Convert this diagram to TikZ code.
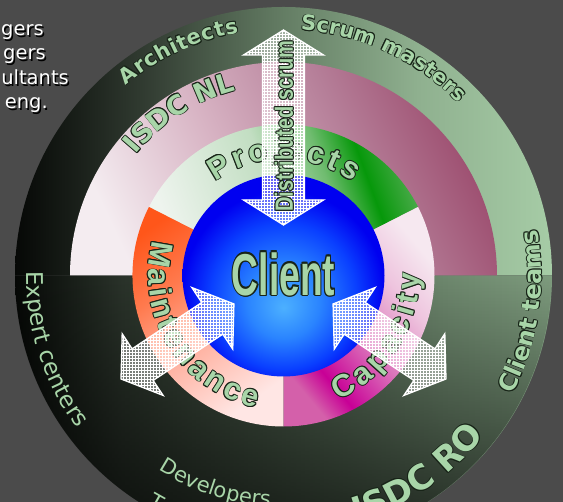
\documentclass[tikz,border=0pt]{standalone}
\usepackage{fontspec}
\usepackage{graphicx}
\usetikzlibrary{calc,patterns,fadings}
\newfontfamily\dvs{DejaVu Sans}
\newfontfamily\lib{Liberation Sans}

\definecolor{bg}{HTML}{4B4B4B}
\definecolor{txtg}{HTML}{A8D5A8}
\definecolor{oldark}{HTML}{182418}
% outer upper
\definecolor{oUa}{HTML}{060806}\definecolor{oUb}{HTML}{1A201A}\definecolor{oUc}{HTML}{354035}
\definecolor{oUd}{HTML}{647D64}\definecolor{oUe}{HTML}{8FB08F}\definecolor{oUf}{HTML}{A6CCA6}
% outer lower
\definecolor{oLa}{HTML}{060806}\definecolor{oLb}{HTML}{2A332A}\definecolor{oLc}{HTML}{4C5E4C}
\definecolor{oLd}{HTML}{6E886E}\definecolor{oLe}{HTML}{7E9C7E}
% pink
\definecolor{pka}{HTML}{F4ECF0}\definecolor{pkb}{HTML}{D8B4C4}\definecolor{pkc}{HTML}{B57E98}\definecolor{pkd}{HTML}{9C4C6E}
% projects
\definecolor{pra}{HTML}{EEF4EE}\definecolor{prb}{HTML}{C2DEC2}\definecolor{prc}{HTML}{70BC70}\definecolor{prd}{HTML}{06980A}\definecolor{pre}{HTML}{48AA48}
% maintenance
\definecolor{mta}{HTML}{FF561A}\definecolor{mtb}{HTML}{FF7A4E}\definecolor{mtc}{HTML}{FFAE9C}\definecolor{mtd}{HTML}{FFE6E4}
% capacity
\definecolor{cpa}{HTML}{D460AA}\definecolor{cpb}{HTML}{C80096}\definecolor{cpc}{HTML}{DC78BC}\definecolor{cpd}{HTML}{EEC4DE}\definecolor{cpe}{HTML}{F6E8F0}
% client
\definecolor{cla}{HTML}{4CB0FF}\definecolor{clb}{HTML}{2A84FF}\definecolor{clc}{HTML}{0A40FF}\definecolor{cld}{HTML}{0000F0}

\pgfdeclarehorizontalshading{outerU}{100bp}{color(0bp)=(oUa); color(25bp)=(oUa); color(31bp)=(oUb); color(38bp)=(oUc); color(50bp)=(oUd); color(62.5bp)=(oUe); color(75bp)=(oUf); color(100bp)=(oUf)}
\pgfdeclarehorizontalshading{outerL}{100bp}{color(0bp)=(oLa); color(25bp)=(oLa); color(35bp)=(oLb); color(50bp)=(oLc); color(65bp)=(oLd); color(75bp)=(oLe); color(100bp)=(oLe)}
\pgfdeclarehorizontalshading{pinkS}{100bp}{color(0bp)=(pka); color(25bp)=(pka); color(42.5bp)=(pkb); color(60bp)=(pkc); color(75bp)=(pkd); color(100bp)=(pkd)}
\pgfdeclarehorizontalshading{projS}{100bp}{color(0bp)=(pra); color(25bp)=(pra); color(47.5bp)=(prb); color(59bp)=(prc); color(67bp)=(prd); color(75bp)=(pre); color(100bp)=(pre)}
\pgfdeclarehorizontalshading{maintS}{100bp}{color(0bp)=(mta); color(25bp)=(mta); color(40bp)=(mtb); color(55bp)=(mtc); color(75bp)=(mtd); color(100bp)=(mtd)}
\pgfdeclarehorizontalshading{capS}{100bp}{color(0bp)=(cpa); color(25bp)=(cpa); color(32.5bp)=(cpb); color(47.5bp)=(cpc); color(62.5bp)=(cpd); color(75bp)=(cpe); color(100bp)=(cpe)}
\pgfdeclareradialshading{clientS}{\pgfpoint{0bp}{-8bp}}{color(0bp)=(cla); color(9bp)=(clb); color(18bp)=(clc); color(25bp)=(cld); color(50bp)=(cld)}

\tikzfading[name=lowdark, top color=transparent!100, bottom color=transparent!28]

\newdimen\olw
\newdimen\chw
\newcounter{chc}
% outlined text: #1 outline width, #2 outline colour, #3 text
\newcommand\olbox[3]{{\olw=#1\relax\setbox0=\hbox{#3}%
  \rlap{\color{#2}%
    \rlap{\kern\olw\copy0}\rlap{\kern-\olw\copy0}%
    \rlap{\raise\olw\copy0}\rlap{\lower\olw\copy0}%
    \rlap{\kern.707\olw\raise.707\olw\copy0}\rlap{\kern-.707\olw\raise.707\olw\copy0}%
    \rlap{\kern.707\olw\lower.707\olw\copy0}\rlap{\kern-.707\olw\lower.707\olw\copy0}}%
  \box0}}
\def\tsz{20}
\newcommand\fB[1]{{\dvs\bfseries\fontsize{\tsz}{\tsz}\selectfont\color{txtg}\olbox{0.75pt}{oldark}{#1}}}
\newcommand\fR[1]{{\dvs\fontsize{\tsz}{\tsz}\selectfont\color{txtg}#1}}
\newcommand\fL[1]{{\lib\bfseries\fontsize{\tsz}{\tsz}\selectfont\color{txtg}\olbox{0.9pt}{oldark}{#1}}}
\newcommand\measurechar[2]{\pgfinterruptpicture\settowidth\chw{#1{#2}}\global\chw=\chw\endpgfinterruptpicture}
% text along an arc: #1 baseline radius, #2 centre angle, #3 1 = ccw (tops inward) / -1 = cw (tops outward),
% #4 char format macro, #5 characters, #6 extra tracking
\newcommand\arctext[6]{%
  \gdef\atw{0}%
  \foreach \ch in {#5}{%
    \measurechar{#4}{\ch}%
    \pgfmathsetmacro\attmp{\atw+\the\chw+#6}%
    \xdef\atw{\attmp}}%
  \pgfmathsetmacro\attmp{\atw-#6}\xdef\atw{\attmp}%
  \gdef\atacc{0}%
  \foreach \ch in {#5}{%
    \measurechar{#4}{\ch}%
    \stepcounter{chc}%
    \pgfmathsetmacro\atang{#2+(#3)*(\atacc+0.5*\the\chw-0.5*\atw)/(#1)*57.29578}%
    \pgfmathsetmacro\atrot{\atang+(#3)*90}%
    \node[anchor=base,inner sep=0pt,outer sep=0pt,rotate=\atrot] (ch\arabic{chc}) at ($(C)+(\atang:#1pt)$) {#4{\ch}};%
    \pgfmathsetmacro\attmp{\atacc+\the\chw+#6}%
    \xdef\atacc{\attmp}}%
}

\tikzset{
  hatch/.style={draw=white, line width=1.3pt, line join=miter,
    preaction={fill=white, fill opacity=0.4}, pattern=grid, pattern color=white},
  pics/dbl/.style args={#1/#2/#3/#4}{code={
    \path[hatch] (0,0) -- (#2,#3) -- (#2,#4) -- ({#1-#2},#4) -- ({#1-#2},#3) -- (#1,0)
      -- ({#1-#2},-#3) -- ({#1-#2},-#4) -- (#2,-#4) -- (#2,-#3) -- cycle;}},
  tl/.style={anchor=base east, inner sep=0pt}
}

\begin{document}
\begin{tikzpicture}[x=1pt,y=1pt]
\useasboundingbox (0,0) rectangle (563,502);
\fill[bg] (0,0) rectangle (563,502);
\coordinate (C) at (283.5,226.5);

% top-left text (cut at the left edge)
\begin{scope}[font=\dvs\fontsize{19.5}{19.5}\selectfont]
\node[tl,text=black] (s1) at (45.5,464.5) {gers};
\node[tl,text=white] (t1) at (44,466) {gers};
\node[tl,text=black] (s2) at (47.5,440.5) {gers};
\node[tl,text=white] (t2) at (46,442) {gers};
\node[tl,text=black] (s3) at (70.5,415.5) {ultants};
\node[tl,text=white] (t3) at (69,417) {ultants};
\node[tl,text=black] (s4) at (49.5,391.5) {eng.};
\node[tl,text=white] (t4) at (48,393) {eng.};
\end{scope}

% outer ring
\shade[shading=outerU] (C) ++(0:268.5pt) arc[start angle=0,end angle=180,radius=268.5pt] -- cycle;
\shade[shading=outerL] (C) ++(180:268.5pt) arc[start angle=180,end angle=360,radius=268.5pt] -- cycle;
\fill[black, path fading=lowdark] (C) ++(180:268.5pt) arc[start angle=180,end angle=360,radius=268.5pt] -- cycle;

% outer ring labels
\def\tsz{21}\arctext{247}{115}{-1}{\fB}{A,r,c,h,i,t,e,c,t,s}{0.6}
\def\tsz{21}\arctext{246}{65.3}{-1}{\fB}{S,c,r,u,m,~,m,a,s,t,e,r,s}{0}
\def\tsz{24}\arctext{258}{-8.6}{1}{\fB}{C,l,i,e,n,t,~,t,e,a,m,s}{0}
\def\tsz{23}\arctext{257}{197.8}{1}{\fR}{E,x,p,e,r,t,~,c,e,n,t,e,r,s}{0}
\def\tsz{21}\arctext{231}{252}{1}{\fR}{D,e,v,e,l,o,p,e,r,s}{0}
\def\tsz{21}\arctext{267}{240.8}{1}{\fR}{T}{0}
\def\tsz{34}\arctext{257}{-56}{1}{\fB}{I,S,D,C,~,R,O}{0}

% ISDC NL half disc
\shade[shading=pinkS, shading angle=25] (C) ++(0:213.5pt) arc[start angle=0,end angle=180,radius=213.5pt] -- cycle;
\def\tsz{27}\arctext{191}{122.6}{-1}{\fB}{I,S,D,C,~,N,L}{0}

% ring segments
\shade[shading=projS, shading angle=20] (C) -- ++(27:151pt) arc[start angle=27,end angle=153,radius=151pt] -- cycle;
\shade[shading=maintS, shading angle=-55] (C) -- ++(153:151pt) arc[start angle=153,end angle=270,radius=151pt] -- cycle;
\shade[shading=capS, shading angle=40] (C) -- ++(270:151pt) arc[start angle=270,end angle=387,radius=151pt] -- cycle;

% client disc
\shade[shading=clientS] (C) circle[radius=101pt];

% ring labels
\def\tsz{31}\arctext{116}{89.7}{-1}{\fL}{P,r,o,j,e,c,t,s}{3.5}
\def\tsz{31}\arctext{135}{211.7}{1}{\fL}{M,a,i,n,t,e,n,a,n,c,e}{3.3}
\def\tsz{31}\arctext{136}{-32.7}{1}{\fL}{C,a,p,a,c,i,t,y}{4.3}

\node (client) at (283.5,228) {\scalebox{0.63}[1]{\lib\bfseries\fontsize{59}{59}\selectfont\color{txtg}\olbox{1.8pt}{oldark}{Client}}};

% hatched double arrows
\pic (arrV) [rotate=90] at (283.5,277) {dbl=195/25/40/21};
\pic (arrL) [rotate=33.6] at (121,123) {dbl=135.6/26/37/19};
\pic (arrR) [rotate=146.4] at (446,123) {dbl=135.6/26/37/19};

\node[rotate=90] (ds) at (284,376) {\scalebox{0.8}[1]{\lib\bfseries\fontsize{25}{25}\selectfont\color{txtg}\olbox{1pt}{oldark}{Distributed scrum}}};
\end{tikzpicture}
\end{document}
